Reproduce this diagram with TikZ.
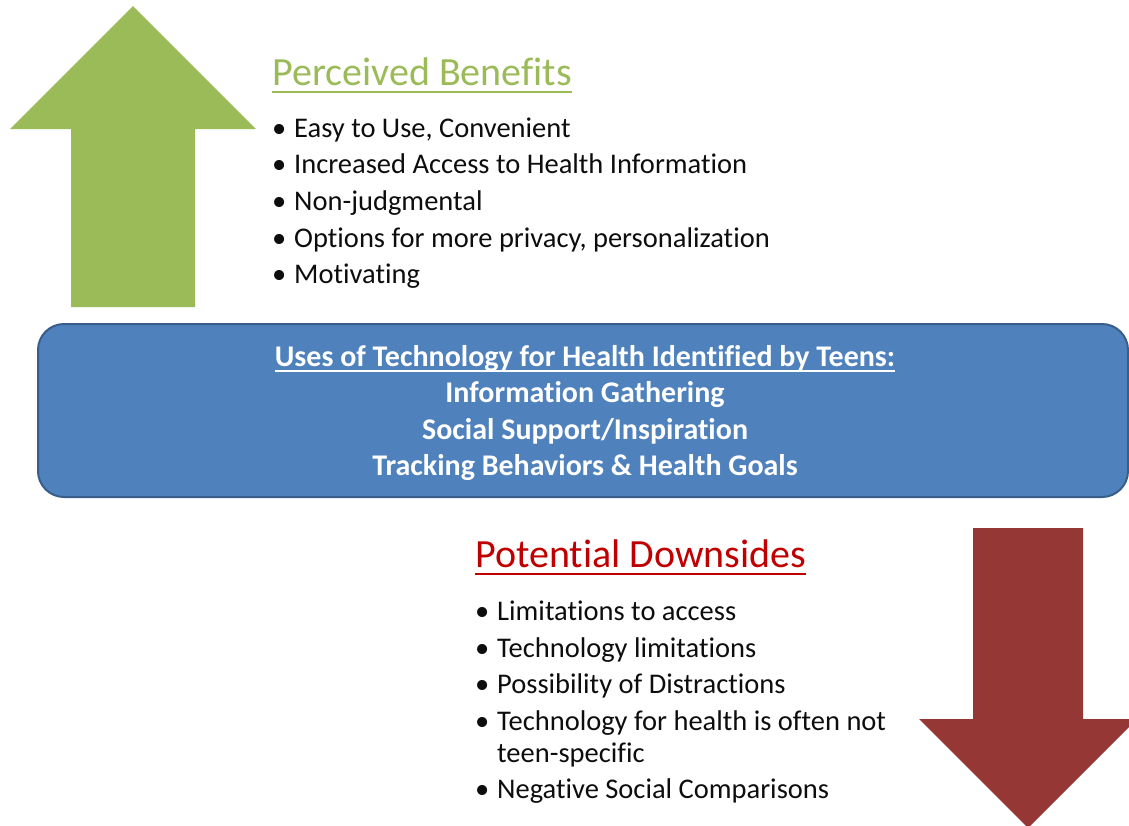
\documentclass[tikz,border=0pt]{standalone}
\usepackage{fontspec}
\setmainfont{Carlito}[RawFeature={-liga}]
\definecolor{upgreen}{HTML}{9BBB59}
\definecolor{downred}{HTML}{953735}
\definecolor{titlered}{HTML}{C00000}
\definecolor{boxblue}{HTML}{4F81BD}
\definecolor{boxedge}{HTML}{385D8A}
\definecolor{txt}{HTML}{0D0D0D}
\tikzset{
  item/.style={anchor=base west, inner sep=0pt, font=\fontsize{28.5}{32}\selectfont, text=txt},
  bul/.style={anchor=base west, inner sep=0pt, font=\fontsize{28.5}{32}\selectfont, text=txt},
  heading/.style={anchor=base west, inner sep=0pt, font=\fontsize{40}{46}\selectfont},
  boxline/.style={anchor=base, inner sep=0pt, font=\bfseries\fontsize{30}{34}\selectfont, text=white},
}
\begin{document}
\begin{tikzpicture}[x=1pt,y=-1pt]
\useasboundingbox (0,0) rectangle (1129,825);
\clip (0,0) rectangle (1129,825);
% green up arrow
\fill[upgreen] (71,307) -- (71,129) -- (10,129) -- (133,6) -- (256,129) -- (195,129) -- (195,307) -- cycle;
% red down arrow
\fill[downred] (973,528) -- (1083,528) -- (1083,719) -- (1137,719) -- (1028,828) -- (919,719) -- (973,719) -- cycle;
% blue box
\node[draw=boxedge, line width=2pt, fill=boxblue, rounded corners=26pt, minimum width=1090pt, minimum height=173pt, inner sep=0pt] (box) at (583,410.5) {};
\node[boxline] (u0) at (585,366) {Uses of Technology for Health Identified by Teens:};
\draw[white, line width=1.8pt] ([yshift=-5pt]u0.base west) -- ([yshift=-5pt]u0.base east);
\node[boxline] (u1) at (585,402) {Information Gathering};
\node[boxline] (u2) at (585,439) {Social Support/Inspiration};
\node[boxline] (u3) at (585,475) {Tracking Behaviors \& Health Goals};
% benefits
\node[heading, text=upgreen] (pb) at (272,85) {Perceived Benefits};
\draw[upgreen, line width=2pt] ([yshift=-7pt]pb.base west) -- ([yshift=-7pt]pb.base east);
\foreach \n/\y/\t in {p1/137/{Easy to Use, Convenient},
                       p2/173/{Increased Access to Health Information},
                       p3/210/{Non-judgmental},
                       p4/247/{Options for more privacy, personalization},
                       p5/283/{Motivating}}{
  \node[bul] (\n b) at (272,\y) {•};
  \node[item] (\n) at (294,\y) {\t};
}
% downsides
\node[heading, text=titlered] (pd) at (475,567) {Potential Downsides};
\draw[titlered, line width=2pt] ([yshift=-7pt]pd.base west) -- ([yshift=-7pt]pd.base east);
\foreach \n/\y/\t in {d1/620/{Limitations to access},
                       d2/657/{Technology limitations},
                       d3/693/{Possibility of Distractions},
                       d4/730/{Technology for health is often not},
                       d5/762/{teen-specific},
                       d6/798/{Negative Social Comparisons}}{
  \node[item] (\n) at (497,\y) {\t};
}
\foreach \n/\y in {d1b/620,d2b/657,d3b/693,d4b/730,d6b/798}{
  \node[bul] (\n) at (475,\y) {•};
}
\end{tikzpicture}
\end{document}
